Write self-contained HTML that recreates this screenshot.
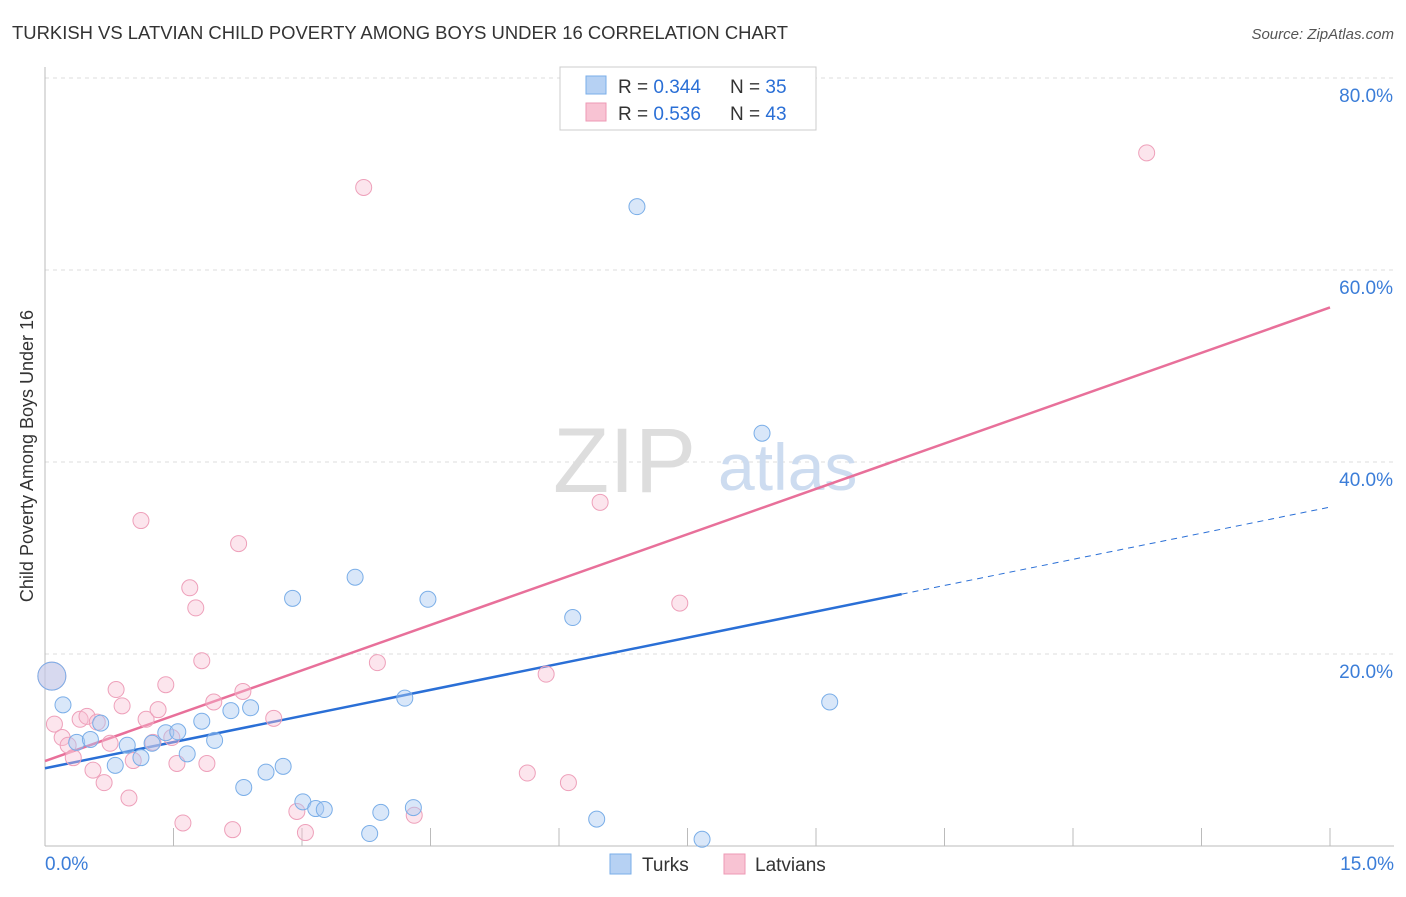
<!DOCTYPE html>
<html><head><meta charset="utf-8"><style>
body{margin:0;background:#fff;font-family:"Liberation Sans",sans-serif;}
svg text{font-family:"Liberation Sans",sans-serif;}
</style></head><body>
<svg id="chart" width="1406" height="892">
<text x="12" y="39" font-size="18" fill="#333" textLength="776" lengthAdjust="spacingAndGlyphs">TURKISH VS LATVIAN CHILD POVERTY AMONG BOYS UNDER 16 CORRELATION CHART</text>
<text x="1394" y="39" font-size="15" fill="#555" text-anchor="end" font-style="italic">Source: ZipAtlas.com</text>
<text transform="translate(33,456) rotate(-90)" font-size="18" fill="#333" text-anchor="middle">Child Poverty Among Boys Under 16</text>
<g id="grid"></g>
<text x="553" y="492" font-size="92" fill="#ddd" font-family="Liberation Serif">ZIP</text>
<text x="718" y="490" font-size="66" fill="#cddcf0">atlas</text>
<g id="trends"></g>
<g id="points"></g>
<g>
<rect x="560" y="67" width="256" height="63" fill="#fff" stroke="#ccc"/>
<rect x="586" y="76" width="20" height="18" fill="#b6d1f3" stroke="#7aaee8"/>
<rect x="586" y="103" width="20" height="18" fill="#f8c3d3" stroke="#ee9ab5"/>
<text x="618" y="93" font-size="19" fill="#333">R = <tspan fill="#2a6fd6">0.344</tspan></text>
<text x="730" y="93" font-size="19" fill="#333">N = <tspan fill="#2a6fd6">35</tspan></text>
<text x="618" y="120" font-size="19" fill="#333">R = <tspan fill="#2a6fd6">0.536</tspan></text>
<text x="730" y="120" font-size="19" fill="#333">N = <tspan fill="#2a6fd6">43</tspan></text>
</g>
<g>
<rect x="610" y="854" width="21" height="20" fill="#b6d1f3" stroke="#7aaee8"/>
<text x="642" y="871" font-size="19" fill="#333">Turks</text>
<rect x="724" y="854" width="21" height="20" fill="#f8c3d3" stroke="#ee9ab5"/>
<text x="755" y="871" font-size="19" fill="#333">Latvians</text>
</g>
</svg>
<script>
const turksX=[0.08,0.21,0.37,0.53,0.65,0.82,0.96,1.12,1.25,1.41,1.55,1.66,1.83,1.98,2.17,2.32,2.40,2.58,2.78,2.89,3.01,3.16,3.26,3.62,3.79,3.92,4.20,4.30,4.47,6.16,6.44,6.91,7.67,8.37,9.16];
const turksY=[17.7,14.7,10.8,11.1,12.8,8.4,10.5,9.2,10.7,11.8,11.9,9.6,13.0,11.0,14.1,6.1,14.4,7.7,8.3,25.8,4.6,3.9,3.8,28.0,1.3,3.5,15.4,4.0,25.7,23.8,2.8,66.6,0.7,43.0,15.0];
const latX=[0.08,0.11,0.20,0.27,0.33,0.41,0.49,0.56,0.61,0.69,0.76,0.83,0.90,0.98,1.03,1.12,1.18,1.26,1.32,1.41,1.48,1.54,1.61,1.69,1.76,1.83,1.89,1.97,2.19,2.26,2.31,2.67,2.94,3.04,3.72,3.88,4.31,5.63,5.85,6.11,6.48,7.41,12.86];
const latY=[17.7,12.7,11.3,10.5,9.2,13.2,13.5,7.9,12.9,6.6,10.7,16.3,14.6,5.0,8.9,33.9,13.2,10.8,14.2,16.8,11.3,8.6,2.4,26.9,24.8,19.3,8.6,15.0,1.7,31.5,16.1,13.3,3.6,1.4,68.6,19.1,3.2,7.6,17.9,6.6,35.8,25.3,72.2];
const turksTrend=[8.1,35.3];
const latTrend=[8.85,56.1];
const yTicks=[20,40,60,80];
const xTickVals=[1.5,3,4.5,6,7.5,9,10.5,12,13.5,15];
const NS="http://www.w3.org/2000/svg";
const sx=v=>45+v/15*1285;
const sy=v=>846-v/20*192;
function mk(tag,attrs,parent){const e=document.createElementNS(NS,tag);for(const k in attrs)e.setAttribute(k,attrs[k]);parent.appendChild(e);return e;}
const grid=document.getElementById('grid');
yTicks.forEach(t=>{
 const l=mk('line',{x1:45,x2:1394,y1:sy(t),y2:sy(t),stroke:'#ddd','stroke-dasharray':'4,4'},grid);
 
 
 const tx=mk('text',{x:1393,y:sy(t)+24,'font-size':19,fill:'#3b7dd8','text-anchor':'end'},grid);
 tx.textContent=t.toFixed(1)+'%';
 
 
});
const ax=mk('line',{x1:45,x2:45,y1:67,y2:846,stroke:'#bbb'},grid);


const bx=mk('line',{x1:45,x2:1394,y1:846,y2:846,stroke:'#bbb'},grid);


xTickVals.forEach(t=>{
 const l=mk('line',{x1:sx(t),x2:sx(t),y1:828,y2:846,stroke:'#bbb'},grid);
 
 
});
[[0,'start',45],[15,'end',1394]].forEach(([v,a,x])=>{
 const tx=mk('text',{x:x,y:870,'font-size':19,fill:'#3b7dd8','text-anchor':a},grid);
 tx.textContent=v.toFixed(1)+'%';
 
 
});
const tr=document.getElementById('trends');
const bs=mk('line',{x1:sx(0),y1:sy(turksTrend[0]),x2:sx(10),y2:sy(turksTrend[0]+(turksTrend[1]-turksTrend[0])*10/15),stroke:'#2a6fd6','stroke-width':2.5},tr);


const bd=mk('line',{x1:sx(10),y1:sy(turksTrend[0]+(turksTrend[1]-turksTrend[0])*10/15),x2:sx(15),y2:sy(turksTrend[1]),stroke:'#2a6fd6','stroke-width':1,'stroke-dasharray':'6,5'},tr);


const pl=mk('line',{x1:sx(0),y1:sy(latTrend[0]),x2:sx(15),y2:sy(latTrend[1]),stroke:'#e8709a','stroke-width':2.5},tr);


const pts=document.getElementById('points');
latX.forEach((x,i)=>{
 const c=mk('circle',{cx:sx(x),cy:sy(latY[i]),r:i==0?14:8,fill:'rgba(248,190,210,0.4)',stroke:'#eea0ba','stroke-width':1},pts);
 
 
});
turksX.forEach((x,i)=>{
 const c=mk('circle',{cx:sx(x),cy:sy(turksY[i]),r:i==0?14:8,fill:'rgba(170,202,242,0.45)',stroke:'#7aaee8','stroke-width':1},pts);
 
 
});
</script>
</body></html>
